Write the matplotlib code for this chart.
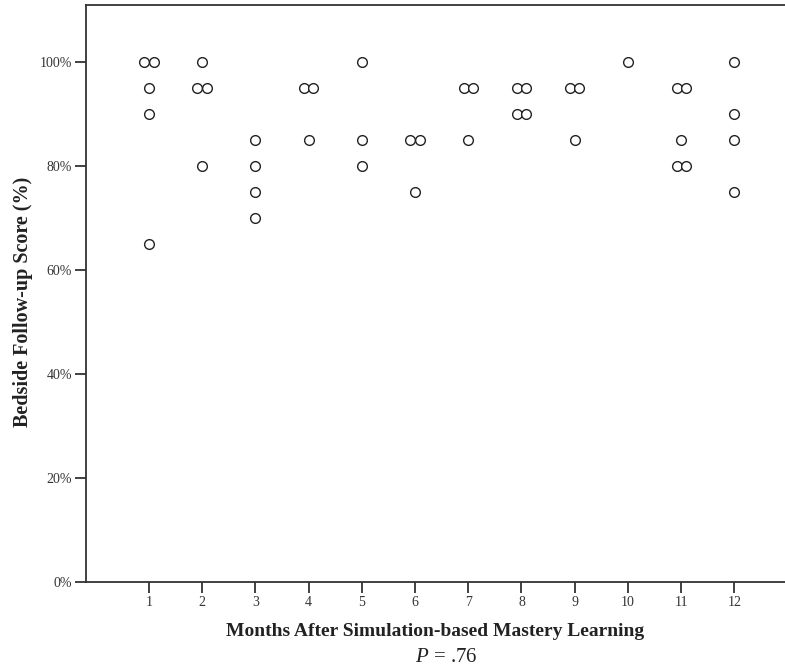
import numpy as np
import matplotlib
matplotlib.use("Agg")
from matplotlib import pyplot as plt

# month -> follow-up scores (%)
months = [1, 1, 1, 1, 1,
          2, 2, 2, 2,
          3, 3, 3, 3,
          4, 4, 4,
          5, 5, 5,
          6, 6, 6,
          7, 7, 7,
          8, 8, 8, 8,
          9, 9, 9,
          10,
          11, 11, 11, 11, 11,
          12, 12, 12, 12]
scores = [100, 100, 95, 90, 65,
          100, 95, 95, 80,
          85, 80, 75, 70,
          95, 95, 85,
          100, 85, 80,
          85, 85, 75,
          95, 95, 85,
          95, 95, 90, 90,
          95, 95, 85,
          100,
          95, 95, 85, 80, 80,
          100, 90, 85, 75]
xticks = list(range(1, 13))
yticks = [0, 20, 40, 60, 80, 100]
p_text = "= .76"

plt.rcParams['font.family'] = 'Liberation Serif'
plt.rcParams['mathtext.fontset'] = 'custom'
plt.rcParams['mathtext.it'] = 'Liberation Serif:italic'
plt.rcParams['mathtext.rm'] = 'Liberation Serif'

# spread tied points side by side like SPSS does
xs = np.array(months, dtype=float)
ys = np.array(scores, dtype=float)
pairs = list(zip(months, scores))
for i, pr in enumerate(pairs):
    same = [j for j, q in enumerate(pairs) if q == pr]
    if len(same) == 2:
        xs[i] += -0.088 if same.index(i) == 0 else 0.088

fig = plt.figure(figsize=(7.85, 6.67), dpi=100)
ax = fig.add_axes([86/785, 1 - 582/667, 1 - 86/785, (582 - 5)/667])

ax.plot(xs, ys, 'o', ms=7, mfc='white', mec='#222222', mew=1.0, ls='none')

ax.set_xlim(-0.18, 12.95)
ax.set_ylim(0, 111)
ax.set_xticks(xticks)
ax.set_yticks(yticks)
ax.set_yticklabels([str(v) + '%' for v in yticks])

for s in ['left', 'bottom', 'top']:
    ax.spines[s].set_color('#333333')
    ax.spines[s].set_linewidth(1.3)
ax.spines['right'].set_visible(False)
ax.tick_params(direction='out', length=8, width=1.3, color='#333333',
               labelsize=10, labelcolor='#333333', pad=2)

ax.set_xlabel('Months After Simulation-based Mastery Learning',
              fontsize=14, fontweight='bold', color='#222222', labelpad=10)
ax.set_ylabel('Bedside Follow-up Score (%)', fontsize=14.5,
              fontweight='bold', color='#222222', labelpad=5)
ax.yaxis.label.set_y(0.486)
fig.text(446/785, 1 - 658/667, '$P$ ' + p_text, fontsize=15, ha='center',
         va='center', color='#222222')

fig.savefig('out.png', dpi=100)
